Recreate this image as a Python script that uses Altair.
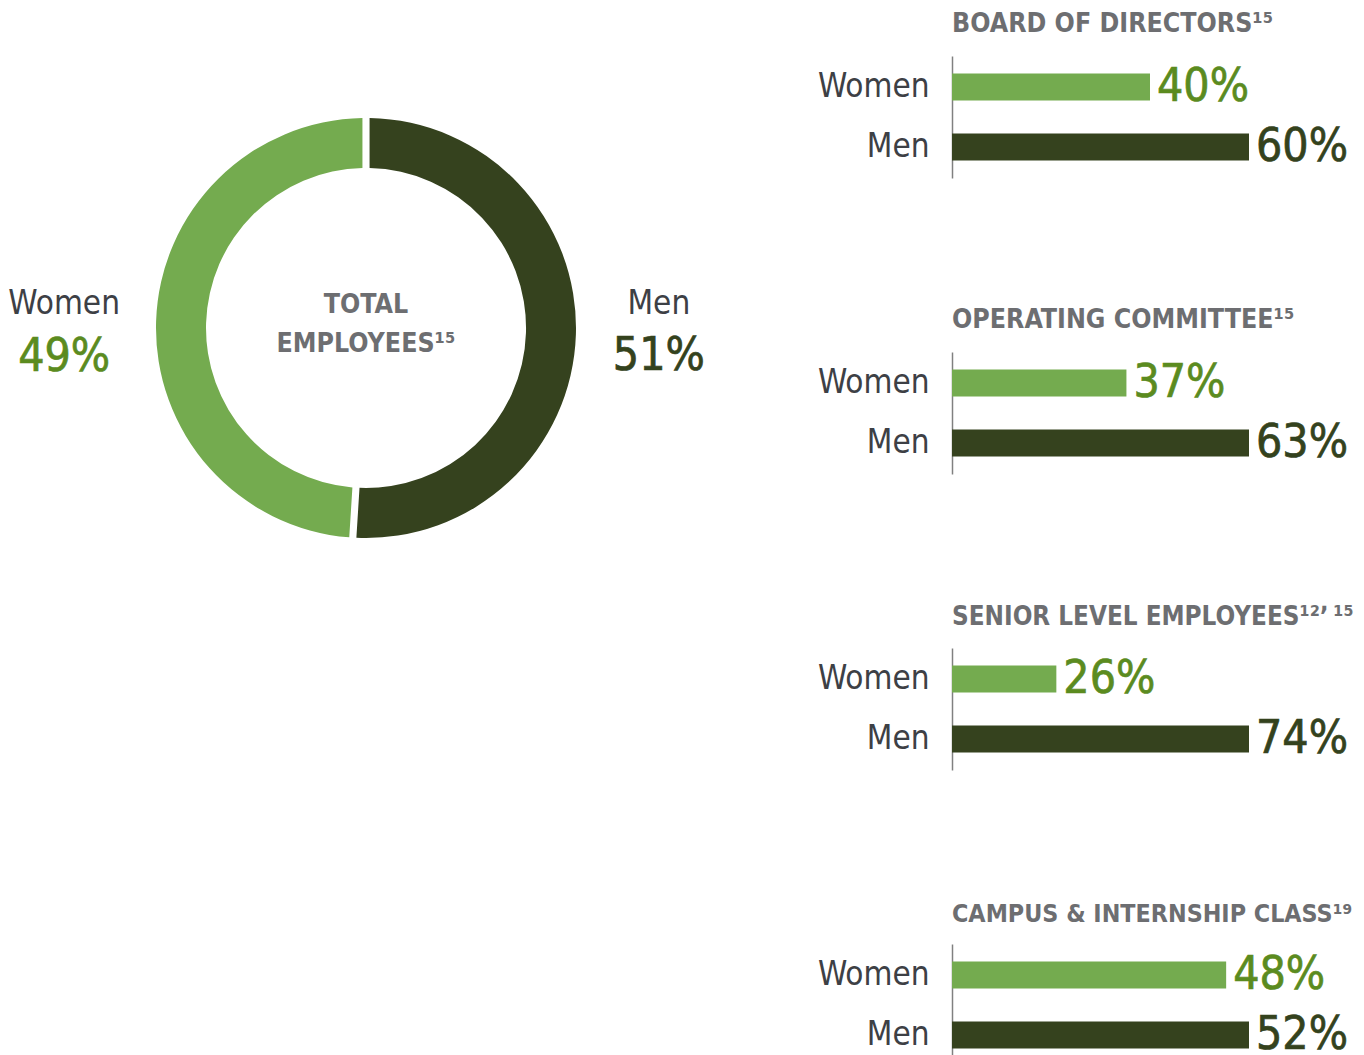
import altair as alt
import pandas as pd

FONT = "'DejaVu Sans Condensed', 'Liberation Sans Narrow', 'Roboto Condensed', 'Roboto', sans-serif"

# ---- data ----
genders = ["Women", "Men"]
total_share = [49, 51]
center_lines = ["TOTAL", "EMPLOYEES¹⁵"]

panel_titles = [
    "BOARD OF DIRECTORS¹⁵",
    "OPERATING COMMITTEE¹⁵",
    "SENIOR LEVEL EMPLOYEES¹²ʼ\u2009¹⁵",
    "CAMPUS & INTERNSHIP CLASS¹⁹",
]
women_share = [40, 37, 26, 48]
men_share = [60, 63, 74, 52]

# ---- styles ----
BAR_COLORS = ["#74ab4f", "#35421e"]
TEXT_COLORS = ["#5b8b1f", "#34421d"]
TITLE_GRAY = "#6d6e71"
LABEL_GRAY = "#3d4045"
TITLE_SIZES = [26.5, 26.5, 25.8, 24.8]

# ---- donut ----
donut_df = pd.DataFrame({
    "gender": genders,
    "share": total_share,
    "order": [1, 0],
    "pct": [f"{v}%" for v in total_share],
})

dbase = alt.Chart(donut_df).encode(
    theta=alt.Theta("share:Q", stack=True),
    order=alt.Order("order:Q"),
)
arcs = dbase.mark_arc(outerRadius=210, innerRadius=160, padAngle=0.027).encode(
    color=alt.Color("gender:N", scale=alt.Scale(domain=genders, range=BAR_COLORS), legend=None)
)


def donut_label(who, field, radius, dy, size, color, stroke_w):
    return dbase.mark_text(
        radius=radius, dy=dy, font=FONT, fontSize=size, fontWeight="normal",
        color=color, stroke=color, strokeWidth=stroke_w, align="center", baseline="middle",
    ).encode(
        text=alt.condition(f"datum.gender == '{who}'", f"{field}:N", alt.value(""))
    )


w_name = donut_label("Women", "gender", 302, -15, 33, LABEL_GRAY, 0)
w_pct = donut_label("Women", "pct", 302, 38, 46, TEXT_COLORS[0], 0.7)
m_name = donut_label("Men", "gender", 293, -33, 33, LABEL_GRAY, 0)
m_pct = donut_label("Men", "pct", 293, 19, 46, TEXT_COLORS[1], 0.7)

center = alt.Chart(pd.DataFrame({"t": ["\n".join(center_lines)]})).mark_text(
    font=FONT, fontSize=26.5, fontWeight="bold", color=TITLE_GRAY,
    lineBreak="\n", lineHeight=39, align="center", baseline="middle", dy=-23,
).encode(text="t:N")

donut = alt.layer(arcs, w_name, w_pct, m_name, m_pct, center).properties(width=716, height=544)


# ---- bar panels ----
def panel(i):
    df = pd.DataFrame({
        "gender": genders,
        "share": [women_share[i], men_share[i]],
        "pct": [f"{women_share[i]}%", f"{men_share[i]}%"],
    })
    base = alt.Chart(df).encode(
        y=alt.Y(
            "gender:N", sort=genders,
            scale=alt.Scale(paddingInner=0.55, paddingOuter=0.29),
            axis=alt.Axis(
                title=None, ticks=False, grid=False, domainColor="#808080", domainWidth=1.5,
                labelFont=FONT, labelFontSize=33, labelColor=LABEL_GRAY, labelPadding=23,
            ),
        ),
        x=alt.X("share:Q", scale=alt.Scale(nice=False, zero=True), axis=None),
    )
    bars = base.mark_bar().encode(
        color=alt.Color("gender:N", scale=alt.Scale(domain=genders, range=BAR_COLORS), legend=None)
    )
    labels = base.mark_text(
        align="left", baseline="middle", dx=7, font=FONT, fontSize=46, fontWeight="normal",
        strokeWidth=0.7,
    ).encode(
        text="pct:N",
        color=alt.Color("gender:N", scale=alt.Scale(domain=genders, range=TEXT_COLORS), legend=None),
        stroke=alt.Stroke("gender:N", scale=alt.Scale(domain=genders, range=TEXT_COLORS), legend=None),
    )
    return alt.layer(bars, labels).resolve_scale(color="independent", stroke="independent").properties(
        width=297, height=122,
        title=alt.Title(
            panel_titles[i], anchor="start", frame="group", font=FONT, fontSize=TITLE_SIZES[i],
            fontWeight="bold", color=TITLE_GRAY, offset=-2.5, baseline="alphabetic",
        ),
    )


right = alt.vconcat(*[panel(i) for i in range(4)], spacing=174, bounds="flush")

chart = alt.hconcat(donut, right, spacing=228, bounds="flush").properties(
    padding={"left": 0, "top": 3, "right": 0, "bottom": 0}
).configure_view(stroke=None)

chart.save("out.html", embed_options={"renderer": "svg", "actions": False})
